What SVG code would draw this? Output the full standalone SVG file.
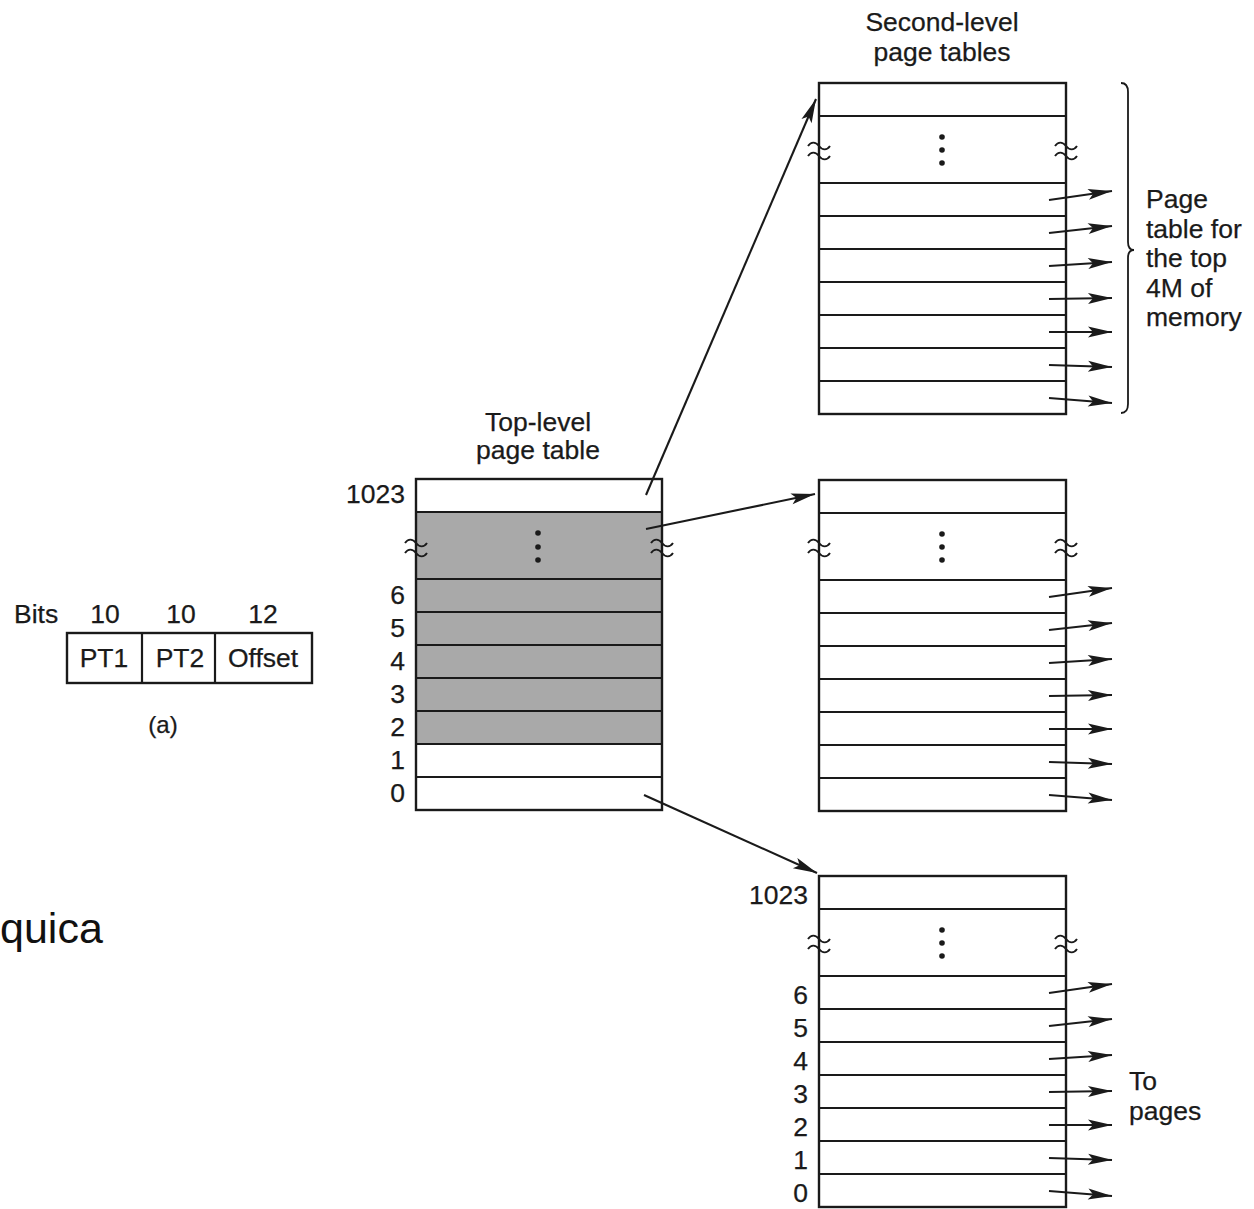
<svg xmlns="http://www.w3.org/2000/svg" width="1254" height="1209" viewBox="0 0 1254 1209">
<style>
  text { font-family: "Liberation Sans", Arial, sans-serif; font-size: 26.5px; fill: #1a1a1a; stroke: #1a1a1a; stroke-width: 0.25; }
  .r { text-anchor: end; }
  .c { text-anchor: middle; }
  .box { fill: none; stroke: #1a1a1a; stroke-width: 2.4; }
  .ln { stroke: #1a1a1a; stroke-width: 2.2; }
  .sq { fill: none; stroke: #1a1a1a; stroke-width: 1.9; }
  .arr { stroke: #1a1a1a; stroke-width: 2.1; fill: none; marker-end: url(#ah); }
  .dot { fill: #1a1a1a; }
</style>
<defs>
  <marker id="ah" viewBox="-25 -7 25 14" refX="0" refY="0" markerWidth="25" markerHeight="14" markerUnits="userSpaceOnUse" orient="auto">
    <path d="M0,0 L-24,-5.5 L-19,0 L-24,5.5 Z" fill="#1a1a1a"/>
  </marker>
  <g id="squig">
    <path class="sq" d="M-11,-5 c3,-4.5 7.5,-4.5 11,0 s8,4.5 11,0"/>
    <path class="sq" d="M-11,5 c3,-4.5 7.5,-4.5 11,0 s8,4.5 11,0"/>
  </g>
</defs>
<rect width="1254" height="1209" fill="#ffffff"/>

<!-- Virtual address format (a) -->
<g id="address-format">
  <text x="14" y="623">Bits</text>
  <text class="c" x="105" y="623">10</text>
  <text class="c" x="181" y="623">10</text>
  <text class="c" x="263" y="623">12</text>
  <rect class="box" x="67" y="633" width="245" height="50" fill="#fff"/>
  <line class="ln" x1="142" y1="633" x2="142" y2="683"/>
  <line class="ln" x1="215" y1="633" x2="215" y2="683"/>
  <text class="c" x="104" y="667">PT1</text>
  <text class="c" x="180" y="667">PT2</text>
  <text class="c" x="263" y="667">Offset</text>
  <text class="c" x="163" y="733" style="font-size:24px">(a)</text>
</g>

<text x="0" y="943" style="font-size:43px;fill:#111;stroke:none">quica</text>

<!-- Top-level page table -->
<g id="top-level-table">
  <text class="c" x="538" y="431">Top-level</text>
  <text class="c" x="538" y="459">page table</text>
  <rect x="416" y="479" width="246" height="331" fill="#ffffff"/>
  <rect x="416" y="512" width="246" height="232" fill="#a9a9a9"/>
  <line class="ln" x1="416" y1="512" x2="662" y2="512"/>
  <line class="ln" x1="416" y1="579" x2="662" y2="579"/>
  <line class="ln" x1="416" y1="612" x2="662" y2="612"/>
  <line class="ln" x1="416" y1="645" x2="662" y2="645"/>
  <line class="ln" x1="416" y1="678" x2="662" y2="678"/>
  <line class="ln" x1="416" y1="711" x2="662" y2="711"/>
  <line class="ln" x1="416" y1="744" x2="662" y2="744"/>
  <line class="ln" x1="416" y1="777" x2="662" y2="777"/>
  <rect class="box" x="416" y="479" width="246" height="331"/>
  <circle class="dot" cx="538" cy="533" r="2.8"/>
  <circle class="dot" cx="538" cy="547" r="2.8"/>
  <circle class="dot" cx="538" cy="560" r="2.8"/>
  <use href="#squig" x="416" y="548"/>
  <use href="#squig" x="662" y="548"/>
  <text class="r" x="405" y="503">1023</text>
  <text class="r" x="405" y="604">6</text>
  <text class="r" x="405" y="637">5</text>
  <text class="r" x="405" y="670">4</text>
  <text class="r" x="405" y="703">3</text>
  <text class="r" x="405" y="736">2</text>
  <text class="r" x="405" y="769">1</text>
  <text class="r" x="405" y="802">0</text>
</g>

<!-- Second-level page table (top 4M) -->
<g id="second-level-table-top">
  <text class="c" x="942" y="31">Second-level</text>
  <text class="c" x="942" y="61">page tables</text>
  <rect x="819" y="83" width="247" height="331" fill="#ffffff"/>
  <line class="ln" x1="819" y1="116" x2="1066" y2="116"/>
  <line class="ln" x1="819" y1="183" x2="1066" y2="183"/>
  <line class="ln" x1="819" y1="216" x2="1066" y2="216"/>
  <line class="ln" x1="819" y1="249" x2="1066" y2="249"/>
  <line class="ln" x1="819" y1="282" x2="1066" y2="282"/>
  <line class="ln" x1="819" y1="315" x2="1066" y2="315"/>
  <line class="ln" x1="819" y1="348" x2="1066" y2="348"/>
  <line class="ln" x1="819" y1="381" x2="1066" y2="381"/>
  <rect class="box" x="819" y="83" width="247" height="331"/>
  <circle class="dot" cx="942" cy="137" r="2.8"/>
  <circle class="dot" cx="942" cy="150" r="2.8"/>
  <circle class="dot" cx="942" cy="163" r="2.8"/>
  <use href="#squig" x="819" y="151"/>
  <use href="#squig" x="1066" y="151"/>
  <path d="M1121,83 Q1128,83 1128,92 L1128,242 Q1128,250 1134,250 Q1128,250 1128,258 L1128,404 Q1128,413 1121,413" fill="none" stroke="#1a1a1a" stroke-width="1.8"/>
  <text x="1146" y="208">Page</text>
  <text x="1146" y="238">table for</text>
  <text x="1146" y="267">the top</text>
  <text x="1146" y="297">4M of</text>
  <text x="1146" y="326">memory</text>
</g>

<!-- Second-level page table (middle) -->
<g id="second-level-table-mid">
  <rect x="819" y="480" width="247" height="331" fill="#ffffff"/>
  <line class="ln" x1="819" y1="513" x2="1066" y2="513"/>
  <line class="ln" x1="819" y1="580" x2="1066" y2="580"/>
  <line class="ln" x1="819" y1="613" x2="1066" y2="613"/>
  <line class="ln" x1="819" y1="646" x2="1066" y2="646"/>
  <line class="ln" x1="819" y1="679" x2="1066" y2="679"/>
  <line class="ln" x1="819" y1="712" x2="1066" y2="712"/>
  <line class="ln" x1="819" y1="745" x2="1066" y2="745"/>
  <line class="ln" x1="819" y1="778" x2="1066" y2="778"/>
  <rect class="box" x="819" y="480" width="247" height="331"/>
  <circle class="dot" cx="942" cy="534" r="2.8"/>
  <circle class="dot" cx="942" cy="547" r="2.8"/>
  <circle class="dot" cx="942" cy="560" r="2.8"/>
  <use href="#squig" x="819" y="548"/>
  <use href="#squig" x="1066" y="548"/>
</g>

<!-- Second-level page table (bottom 4M) -->
<g id="second-level-table-bottom">
  <rect x="819" y="876" width="247" height="331" fill="#ffffff"/>
  <line class="ln" x1="819" y1="909" x2="1066" y2="909"/>
  <line class="ln" x1="819" y1="976" x2="1066" y2="976"/>
  <line class="ln" x1="819" y1="1009" x2="1066" y2="1009"/>
  <line class="ln" x1="819" y1="1042" x2="1066" y2="1042"/>
  <line class="ln" x1="819" y1="1075" x2="1066" y2="1075"/>
  <line class="ln" x1="819" y1="1108" x2="1066" y2="1108"/>
  <line class="ln" x1="819" y1="1141" x2="1066" y2="1141"/>
  <line class="ln" x1="819" y1="1174" x2="1066" y2="1174"/>
  <rect class="box" x="819" y="876" width="247" height="331"/>
  <circle class="dot" cx="942" cy="930" r="2.8"/>
  <circle class="dot" cx="942" cy="943" r="2.8"/>
  <circle class="dot" cx="942" cy="956" r="2.8"/>
  <use href="#squig" x="819" y="944"/>
  <use href="#squig" x="1066" y="944"/>
  <text class="r" x="808" y="904">1023</text>
  <text class="r" x="808" y="1004">6</text>
  <text class="r" x="808" y="1037">5</text>
  <text class="r" x="808" y="1070">4</text>
  <text class="r" x="808" y="1103">3</text>
  <text class="r" x="808" y="1136">2</text>
  <text class="r" x="808" y="1169">1</text>
  <text class="r" x="808" y="1202">0</text>
  <text x="1129" y="1090">To</text>
  <text x="1129" y="1120">pages</text>
</g>

<!-- Connectors -->
<g id="connectors">
  <line class="arr" x1="646" y1="495" x2="816" y2="99"/>
  <line class="arr" x1="646" y1="529" x2="815" y2="494"/>
  <line class="arr" x1="644" y1="795" x2="817" y2="873"/>

  <line class="arr" x1="1049" y1="200" x2="1112" y2="191"/>
  <line class="arr" x1="1049" y1="233" x2="1112" y2="226"/>
  <line class="arr" x1="1049" y1="266" x2="1112" y2="262"/>
  <line class="arr" x1="1049" y1="299" x2="1112" y2="298"/>
  <line class="arr" x1="1049" y1="332" x2="1112" y2="332"/>
  <line class="arr" x1="1049" y1="365" x2="1112" y2="367"/>
  <line class="arr" x1="1049" y1="398" x2="1112" y2="403"/>

  <line class="arr" x1="1049" y1="597" x2="1112" y2="588"/>
  <line class="arr" x1="1049" y1="630" x2="1112" y2="623"/>
  <line class="arr" x1="1049" y1="663" x2="1112" y2="659"/>
  <line class="arr" x1="1049" y1="696" x2="1112" y2="695"/>
  <line class="arr" x1="1049" y1="729" x2="1112" y2="729"/>
  <line class="arr" x1="1049" y1="762" x2="1112" y2="764"/>
  <line class="arr" x1="1049" y1="795" x2="1112" y2="800"/>

  <line class="arr" x1="1049" y1="993" x2="1112" y2="984"/>
  <line class="arr" x1="1049" y1="1026" x2="1112" y2="1019"/>
  <line class="arr" x1="1049" y1="1059" x2="1112" y2="1055"/>
  <line class="arr" x1="1049" y1="1092" x2="1112" y2="1091"/>
  <line class="arr" x1="1049" y1="1125" x2="1112" y2="1125"/>
  <line class="arr" x1="1049" y1="1158" x2="1112" y2="1160"/>
  <line class="arr" x1="1049" y1="1191" x2="1112" y2="1196"/>
</g>
</svg>
